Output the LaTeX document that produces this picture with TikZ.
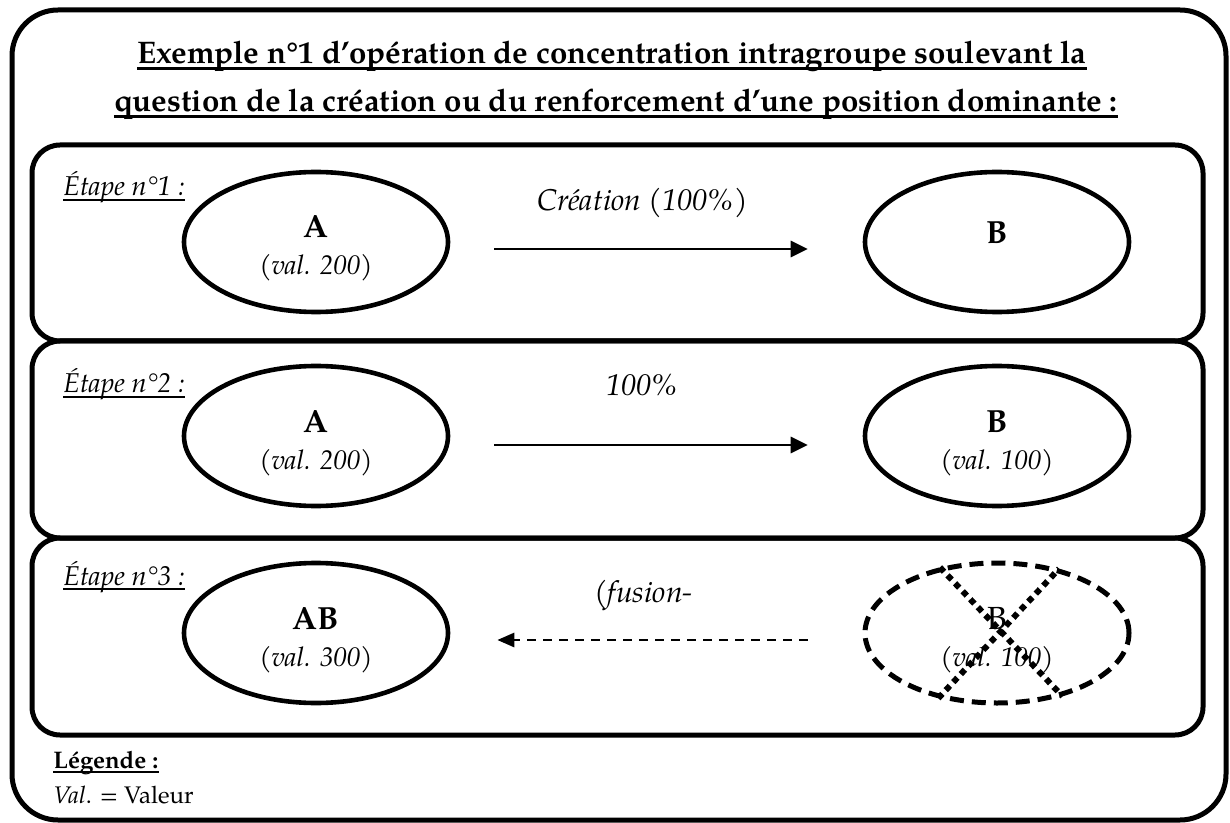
\documentclass[tikz,border=0pt]{standalone}
\usepackage{fontspec}
\setmainfont{texgyrepagella}[Extension=.otf,UprightFont=*-regular,BoldFont=*-bold,ItalicFont=*-italic,BoldItalicFont=*-bolditalic]
\usetikzlibrary{shapes.geometric,arrows.meta}

\newcommand{\lettre}{\fontsize{16}{16}\selectfont}

\begin{document}
\begin{tikzpicture}[x=0.5pt,y=-0.5pt]

      \useasboundingbox (0,0) rectangle (1230,823);

      % cadres
      \draw[line width=2.5pt,rounded corners=23pt] (12,10) rectangle (1226,820);
      \begin{scope}[line width=2.5pt,rounded corners=14pt]
        \draw (32,145) rectangle (1203,341);
        \draw (32,341) rectangle (1203,538);
        \draw (32,538) rectangle (1203,735);
      \end{scope}

      \begin{scope}[every node/.style={anchor=base,inner sep=0pt,font=\fontsize{15.6}{17}\selectfont\bfseries}]
        \node (t1) at (612,64)  {Exemple n°1 d’opération de concentration intragroupe soulevant la};
        \node (t2) at (616,112) {question de la création ou du renforcement d’une position dominante :};
      \end{scope}

      \begin{scope}[every node/.style={anchor=base west,inner sep=0pt,font=\fontsize{13.6}{15}\selectfont\itshape}]
        \node (e1) at (63,196) {Étape n°1 :};
        \node (e2) at (63,393) {Étape n°2 :};
        \node (e3) at (63,585) {Étape n°3 :};
      \end{scope}

      \node[anchor=base west,inner sep=0pt,font=\fontsize{12}{14}\selectfont\bfseries] (leg) at (53,768) {Légende :};
      \node[anchor=base west,inner sep=0pt,font=\fontsize{12}{14}\selectfont] (val) at (53,803) {\textit{Val}. = Valeur};

      % soulignements
      \draw[line width=1.3pt] ([yshift=-2.4pt]t1.base west) -- ([yshift=-2.4pt]t1.base east);
      \draw[line width=1.3pt] ([yshift=-2.4pt]t2.base west) -- ([yshift=-2.4pt]t2.base east);
      \foreach \n in {e1,e2,e3,leg}
        \draw[line width=1pt] ([yshift=-2pt]\n.base west) -- ([yshift=-2pt]\n.base east);

      \begin{scope}[every node/.style={ellipse,draw,line width=2.3pt,minimum width=132pt,minimum height=70pt,inner sep=0pt,align=center,text height=35.4pt,text depth=2.4pt,font=\fontsize{13.5}{14}\selectfont}]
        \node (a1) at (316,242) {\lettre\bfseries A\\[4.5pt]\textit{(val. 200)}};
        \node[text height=6pt,text depth=4pt] (b1) at (997,242) {\lettre\bfseries B};
        \node (a2) at (316,436) {\lettre\bfseries A\\[4.5pt]\textit{(val. 200)}};
        \node (b2) at (997,436) {\lettre\bfseries B\\[4.5pt]\textit{(val. 100)}};
        \node (ab) at (316,633) {\lettre\bfseries AB\\[4.5pt]\textit{(val. 300)}};
        \node[dash pattern=on 7pt off 4pt,line width=2.5pt] (b3) at (997,633) {\lettre B\\[4.5pt]\textit{(val. 100)}};
      \end{scope}

      % croix sur B
      \begin{scope}[line width=3pt,dash pattern=on 3pt off 2.5pt]
        \draw (b3.131) -- (b3.-44);
        \draw (b3.228) -- (b3.46);
      \end{scope}

      \begin{scope}[every node/.style={font=\fontsize{15}{18}\selectfont\itshape}]

        \begin{scope}[every edge/.style={draw,line width=1.4pt,-{Triangle[length=8.5pt,width=8pt]}}]
          \path ([yshift=-3.5pt]a1.east) edge[shorten <=22pt,shorten >=27.5pt]
            node[xshift=-7pt,yshift=23pt] {Création (100\%)} ([yshift=-3.5pt]b1.west);
          \path ([yshift=-4.5pt]a2.east) edge[shorten <=22pt,shorten >=27.5pt]
            node[xshift=-7pt,yshift=30pt] {100\%} ([yshift=-4.5pt]b2.west);
        \end{scope}

        \begin{scope}[every edge/.style={draw,line width=1.4pt,dash pattern=on 4.5pt off 3.5pt,-{Triangle[length=8.5pt,width=7pt]}}]
          \path ([yshift=-3.5pt]b3.west) edge[shorten <=27.5pt,shorten >=23.5pt]
            node[xshift=-6.5pt,yshift=22.5pt] {(fusion-} ([yshift=-3.5pt]ab.east);
        \end{scope}

      \end{scope}

    \end{tikzpicture}
\end{document}
